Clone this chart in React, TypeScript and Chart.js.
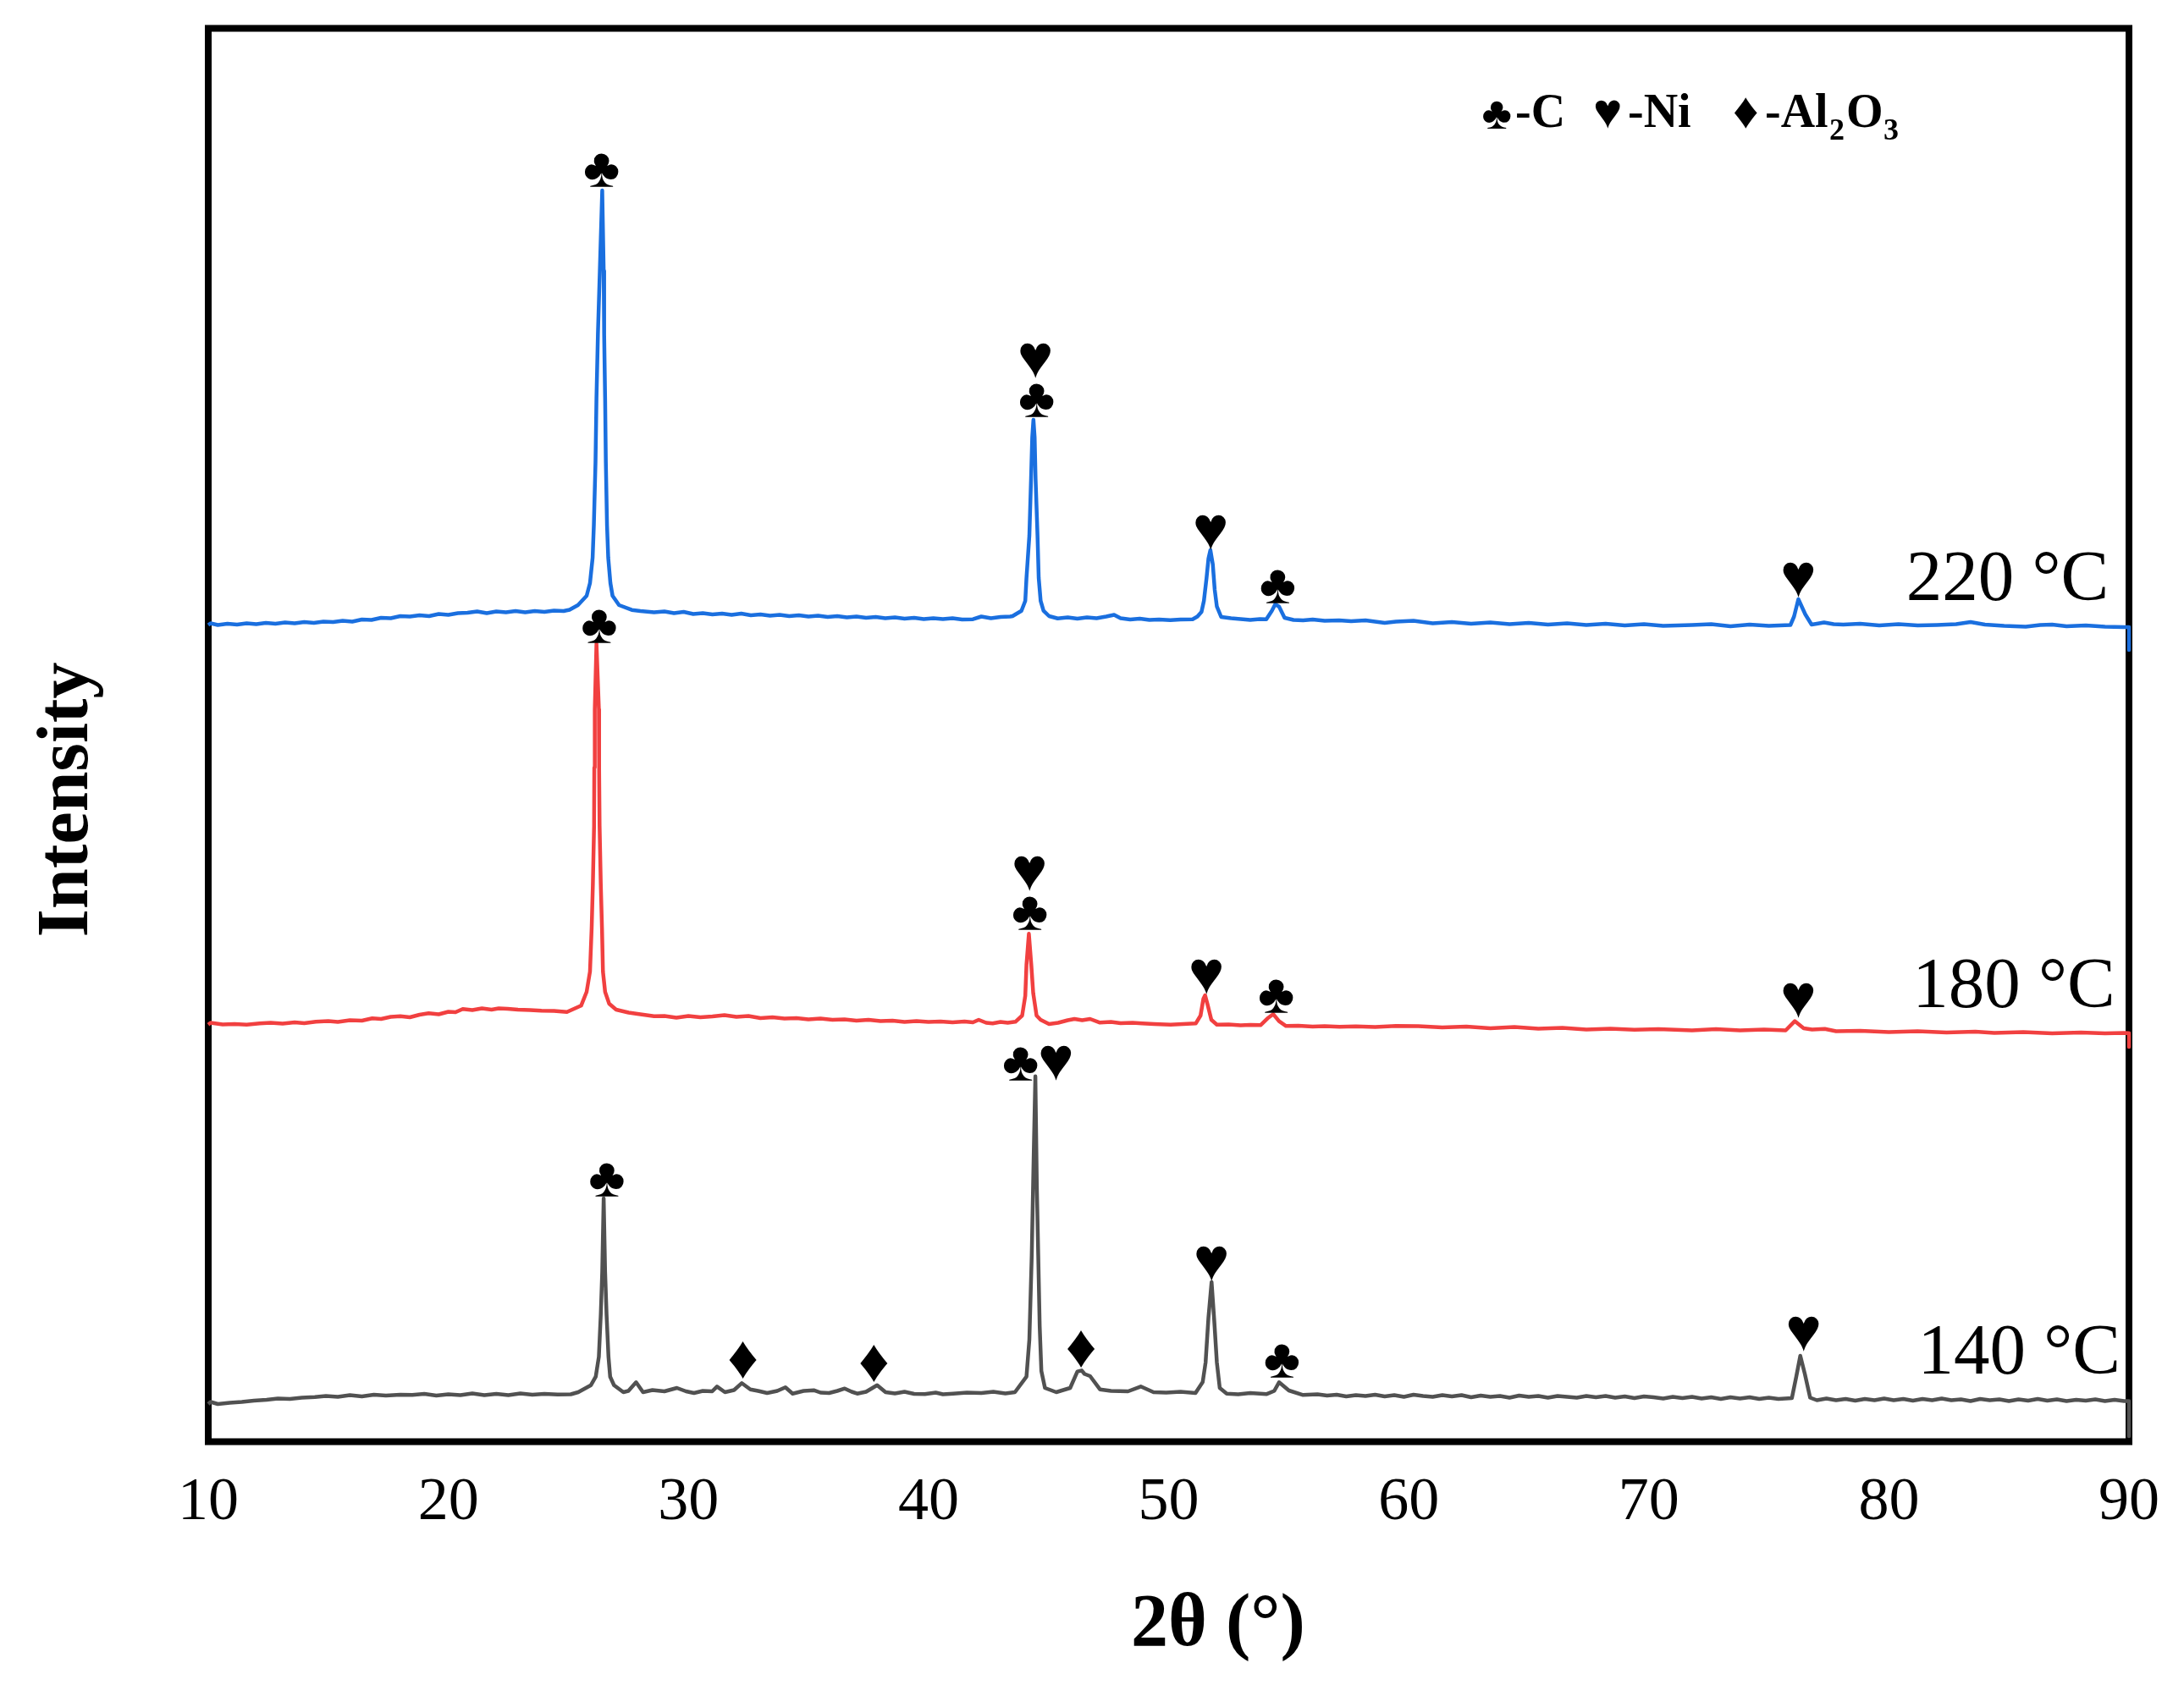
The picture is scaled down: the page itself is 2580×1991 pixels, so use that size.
import React, { useEffect, useRef } from "react";
import { Chart, registerables } from "chart.js";

Chart.register(...registerables);

const SERIF = '"Liberation Serif"';
const xTicks = [10, 20, 30, 40, 50, 60, 70, 80, 90];

const theta220 = [10, 10.1, 10.4, 10.8, 11.2, 11.6, 12, 12.4, 12.8, 13.2, 13.6, 14, 14.4, 14.8, 15.2, 15.6, 16, 16.4, 16.8, 17.2, 17.6, 18, 18.4, 18.8, 19.2, 19.6, 20, 20.4, 20.8, 21.2, 21.6, 22, 22.4, 22.8, 23.2, 23.6, 24, 24.4, 24.8, 25.05, 25.4, 25.76, 25.9, 26.01, 26.06, 26.13, 26.17, 26.23, 26.31, 26.41, 26.47, 26.49, 26.53, 26.56, 26.61, 26.66, 26.75, 26.84, 27.11, 27.64, 28, 28.57, 29, 29.4, 29.8, 30.2, 30.6, 31, 31.4, 31.8, 32.2, 32.6, 33, 33.4, 33.8, 34.2, 34.6, 35, 35.4, 35.8, 36.2, 36.6, 37, 37.4, 37.8, 38.2, 38.6, 39, 39.4, 39.8, 40.2, 40.6, 41, 41.4, 41.85, 42.2, 42.6, 43, 43.4, 43.5, 43.87, 44.03, 44.08, 44.2, 44.27, 44.32, 44.37, 44.42, 44.46, 44.54, 44.59, 44.67, 44.79, 45.02, 45.38, 45.8, 46.2, 46.6, 47, 47.4, 47.73, 48, 48.4, 48.8, 49.2, 49.6, 50.07, 50.5, 51, 51.2, 51.37, 51.47, 51.58, 51.66, 51.74, 51.84, 51.92, 52.01, 52.19, 52.6, 53, 53.4, 53.8, 54.07, 54.3, 54.44, 54.6, 54.83, 55.2, 55.6, 56, 56.5, 57.1, 57.6, 58.2, 59, 59.47, 60.2, 61, 61.8, 62.6, 63.4, 64.2, 65, 65.8, 66.6, 67.4, 68.2, 69, 69.8, 70.6, 71.8, 72.6, 73.4, 74.2, 75, 75.9, 76.05, 76.23, 76.52, 76.78, 77, 77.3, 77.7, 78.1, 78.8, 79.6, 80.4, 81.2, 82, 82.8, 83.4, 84, 84.8, 85.7, 86.3, 86.8, 87.4, 88.2, 89, 89.8, 90, 90];
const intensity220 = [965, 967, 965, 966.5, 965.5, 967, 966, 967.5, 966.5, 968, 967, 968.5, 967.5, 969, 968.5, 970, 969, 971.5, 971, 973.5, 973, 975.5, 975, 976.5, 975.5, 978, 977, 979, 979.5, 981, 979, 981, 980, 981.5, 980, 981.5, 980.5, 982, 981.5, 983, 988.5, 999.5, 1014.5, 1044.5, 1082.5, 1157.5, 1233, 1308, 1383.5, 1478.5, 1383.5, 1308, 1233, 1157.5, 1082.5, 1044.5, 1014.5, 999.5, 988.5, 982.8, 981.5, 980, 981, 979, 980.5, 978, 979, 977.5, 978.5, 977, 978.5, 976.5, 977.5, 976, 977, 975.5, 976.5, 975, 976, 974.5, 975.5, 974, 975, 973.5, 974.5, 973, 974, 972.5, 973.5, 972, 973, 972, 973, 971.5, 971.8, 975, 973, 974.5, 975, 975.5, 981.8, 993.5, 1020.5, 1070.5, 1136.8, 1186.8, 1207.5, 1186.8, 1136.8, 1070.5, 1020.5, 993.5, 981.8, 975.5, 972.8, 974, 972.5, 974, 973, 975, 977, 973, 971.5, 972.5, 971, 971.5, 970.8, 971.5, 971.8, 975, 980.5, 993.5, 1020.5, 1043.5, 1053.5, 1036.8, 1006.8, 986.8, 974.5, 973, 972, 971, 972, 971.8, 981.8, 989.5, 986.8, 973.5, 971, 970.5, 971.5, 970, 970.5, 969.5, 970.5, 967.5, 969, 970, 967, 968.5, 966.5, 968, 966, 967.5, 965.5, 967, 965, 966.5, 964.5, 966, 964, 965, 966, 963.5, 965.5, 964, 965, 975, 995.5, 977.5, 965.5, 966.5, 968, 966, 965.5, 966.5, 964.5, 966, 964.5, 965, 966, 968.5, 965.5, 964, 963, 965, 965.5, 963.5, 964.5, 963, 962.5, 962.5, 935.5];

const theta180 = [10, 10.1, 10.6, 11.1, 11.6, 12.14, 12.6, 13.1, 13.6, 14, 14.48, 15, 15.4, 15.9, 16.4, 16.83, 17.2, 17.6, 18, 18.4, 18.8, 19.18, 19.6, 20, 20.3, 20.6, 21, 21.4, 21.8, 22.1, 22.47, 22.9, 23.4, 23.88, 24.4, 24.94, 25.53, 25.76, 25.9, 25.97, 26.02, 26.07, 26.08, 26.1, 26.17, 26.27, 26.28, 26.3, 26.35, 26.4, 26.44, 26.53, 26.7, 26.99, 27.51, 28, 28.57, 29, 29.5, 30, 30.5, 31, 31.5, 32, 32.5, 33, 33.5, 34, 34.5, 35, 35.5, 36, 36.5, 37, 37.5, 38, 38.5, 39, 39.5, 40, 40.5, 41, 41.5, 41.85, 42.09, 42.4, 42.67, 43, 43.3, 43.62, 43.9, 44.03, 44.08, 44.18, 44.28, 44.36, 44.5, 44.67, 45.02, 45.4, 45.8, 46.08, 46.4, 46.73, 47.14, 47.6, 48, 48.5, 48.9, 49.4, 50.08, 50.6, 51.13, 51.33, 51.45, 51.52, 51.62, 51.78, 52.01, 52.5, 53, 53.4, 53.83, 54.12, 54.36, 54.6, 54.89, 55.4, 56, 56.5, 57.12, 57.8, 58.6, 59.47, 60.4, 61.4, 62.4, 63.4, 64.4, 65.4, 66.4, 67.4, 68.4, 69.4, 70.4, 71.8, 72.8, 73.8, 74.8, 75.7, 76.08, 76.45, 76.8, 77.33, 77.8, 78.8, 80, 81.2, 82.4, 83.6, 84.39, 85.6, 86.8, 88, 89, 89.8, 90, 90];
const intensity180 = [492.8, 495, 493, 493.5, 492.8, 494.2, 495, 494, 495.5, 494.5, 496.2, 497, 496, 498, 497.5, 500.2, 499.5, 502, 502.8, 501.5, 504.5, 506.2, 505, 508, 507.5, 511.2, 510, 512, 510.5, 512, 511.5, 510.5, 510, 509.2, 509, 507.8, 515.2, 531.5, 555.5, 607, 658.5, 727.5, 796.5, 865.5, 943, 865.5, 796.5, 727.5, 658.5, 607, 555.5, 531.5, 517.5, 510.5, 507, 505, 502.8, 503, 501, 503, 501.5, 502.5, 504, 502, 503, 500.5, 501.5, 500, 500.5, 499, 500, 498.5, 499, 497.5, 498.5, 497, 497.5, 496, 497, 496, 496.5, 495.5, 496.5, 495.5, 498.5, 495, 494.2, 496, 495, 496.2, 503.5, 526.8, 563.5, 600.2, 563.5, 530.2, 503.5, 498.5, 493.5, 495, 498, 499.5, 498, 499.5, 495.2, 496, 494.5, 495, 494.2, 493.5, 492.8, 493.5, 494.2, 503.5, 523.5, 527.5, 516.8, 498.5, 492.8, 493, 492, 492.5, 492.2, 500.2, 505.2, 496.8, 491.2, 491.5, 490.5, 491, 490.2, 490.8, 490, 491.2, 491, 489.5, 490.5, 488.5, 490, 488, 489, 487, 488, 486.8, 487.5, 486, 487.5, 486, 487, 486, 496.9, 488.5, 487, 487.7, 485, 485.5, 484, 485, 483.5, 484.5, 483, 484, 482.5, 483.5, 482.5, 483, 482.8, 466.5];

const theta140 = [10, 10.1, 10.4, 10.9, 11.4, 11.9, 12.43, 12.9, 13.4, 13.9, 14.44, 14.9, 15.4, 15.9, 16.4, 16.9, 17.4, 18, 18.5, 19, 19.5, 20, 20.5, 21, 21.5, 22, 22.5, 23, 23.5, 24, 24.55, 25.1, 25.41, 25.94, 26.14, 26.27, 26.35, 26.41, 26.47, 26.53, 26.59, 26.67, 26.74, 26.9, 27.29, 27.5, 27.82, 28.11, 28.5, 29, 29.52, 29.9, 30.23, 30.6, 30.99, 31.19, 31.52, 31.9, 32.22, 32.58, 32.9, 33.28, 33.7, 34.04, 34.34, 34.8, 35.22, 35.5, 35.86, 36.2, 36.51, 36.8, 37.03, 37.4, 37.86, 38.21, 38.6, 39, 39.4, 39.85, 40.3, 40.6, 41.03, 41.6, 42.2, 42.7, 43.2, 43.6, 44.08, 44.2, 44.3, 44.38, 44.45, 44.51, 44.57, 44.63, 44.7, 44.85, 45.32, 45.9, 46.2, 46.38, 46.5, 46.73, 47.14, 47.6, 48.31, 48.84, 49.37, 49.9, 50.5, 51.12, 51.42, 51.54, 51.66, 51.79, 51.9, 52.01, 52.13, 52.42, 52.9, 53.4, 54.07, 54.4, 54.6, 55.01, 55.6,
  56.2, 56.6, 57, 57.4, 57.8, 58.2, 58.6, 59, 59.4, 59.8, 60.2, 60.6, 61, 61.4, 61.8, 62.2, 62.6, 63, 63.4, 63.8, 64.2, 64.6, 65, 65.4, 65.8, 66.2, 66.6, 67, 67.4, 67.8, 68.2, 68.6, 69, 69.4, 69.8, 70.2, 70.6, 71, 71.4, 71.8, 72.2, 72.6, 73, 73.4, 73.8, 74.2, 74.6, 75, 75.4, 75.96,
  76.14, 76.31, 76.5, 76.72,
  77, 77.4, 77.8, 78.2, 78.6, 79, 79.4, 79.8, 80.2, 80.6, 81, 81.4, 81.8, 82.2, 82.6, 83, 83.4, 83.8, 84.2, 84.6, 85, 85.4, 85.8, 86.2, 86.6, 87, 87.4, 87.8, 88.2, 88.6, 89, 89.4, 89.8, 90, 90];
const intensity140 = [44.5, 47, 44.5, 46, 47, 48.5, 49.5, 51, 50.5, 52, 52.8, 54, 53, 55, 53.5, 55.5, 54.5, 55.5, 55.2, 56.5, 54.5, 56, 55, 57, 55, 56.5, 55, 57, 55.5, 56.5, 55.8, 56, 58.5, 66.8, 76.8, 100.5, 150.5, 200.5, 287.5, 200.5, 150.5, 100.5, 76.8, 66.8, 58.5, 60, 70.2, 58.5, 61, 59.5, 63.5, 59.5, 57.5, 60, 59.5, 65.2, 58.5, 61, 69.2, 61.8, 60, 57.5, 60, 64.2, 56.8, 60, 60.8, 58, 57.5, 60, 62.8, 59, 56.8, 59, 66.8, 58.5, 57, 59, 56.5, 56.2, 58, 56, 56.8, 58, 57.5, 59, 57, 58.5, 76.8, 120.5, 220.5, 336.8, 431.8, 303.5, 220.5, 136.8, 83.5, 63.5, 58.5, 63.5, 82.8, 84.2, 80, 77.5, 61.8, 60, 59.5, 65.2, 58.5, 58, 59, 57.5, 70.5, 93.5, 146.8, 188.5, 143.5, 93.5, 63.5, 56.8, 56, 57.5, 56.2, 60, 70.2, 60.5, 55.2,
  56, 54.5, 55.5, 53.5, 55, 54, 55.5, 53.5, 55, 53, 55.5, 54, 53, 55, 53.5, 55, 52.5, 54.5, 53, 54, 52, 54.5, 53, 54, 52, 54, 53, 52, 54, 52.5, 54, 52, 53.5, 51.5, 53.5, 52.5, 51, 53, 51.5, 53, 51, 52.5, 50.5, 52.5, 51, 52.5, 50.5, 52, 50.5, 51.5,
  76.5, 101.5, 80, 52,
  49, 51, 49, 50.5, 48.5, 50.5, 49, 51, 49, 50.5, 48.5, 50.5, 49, 51, 49, 50, 48, 50.5, 49, 50, 48, 50, 48.5, 50.5, 48.5, 50, 48, 49.5, 48.5, 50, 48, 49.5, 48, 48, 6.5];

const peakGlyphs = ["♣", "♥", "♣", "♥", "♣", "♥", "♣", "♥", "♣", "♥", "♣", "♥", "♣", "♦", "♦", "♣", "♥", "♦", "♥", "♣", "♥"];
const peakTheta = [26.38, 44.46, 44.5, 51.75, 54.54, 76.23, 26.28, 44.21, 44.22, 51.58, 54.48, 76.23, 26.6, 32.27, 37.73, 43.83, 45.31, 46.36, 51.79, 54.72, 76.45];
const peakIntensity = [1482.8, 1256.8, 1210.8, 1053.5, 990.8, 997.5, 943.5, 650.8, 604.8, 528.5, 506.8, 500.5, 289.2, 74.2, 70.8, 426.8, 426.8, 87.8, 189.5, 75.8, 106.5];

const tempLabels = ["220 °C", "180 °C", "140 °C"];
const tempTheta = [80.72, 80.98, 81.2];
const tempIntensity = [994.5, 514, 81];

const seriesColors = ["#1a6fdf", "#f14040", "#515151"];

const toPoints = (xs: number[], ys: number[]) => xs.map((x, i) => ({ x, y: ys[i] }));

const annotate = {
  id: "annotate",
  beforeDatasetsDraw(chart: any) {
    const { ctx, chartArea: a } = chart;
    ctx.save();
    ctx.strokeStyle = "#000";
    ctx.lineWidth = 8;
    ctx.strokeRect(a.left, a.top, a.right - a.left, a.bottom - a.top);
    ctx.restore();
  },
  afterDatasetsDraw(chart: any) {
    const { ctx, scales } = chart;
    const sx = scales.x;
    const sy = scales.y;
    ctx.save();
    ctx.fillStyle = "#000";
    ctx.textAlign = "left";
    ctx.textBaseline = "alphabetic";

    const glyph = (g: string, cx: number, bottom: number, size: number) => {
      ctx.font = `${size}px ${SERIF}`;
      const m = ctx.measureText(g);
      const inkW = m.actualBoundingBoxRight + m.actualBoundingBoxLeft;
      ctx.fillText(g, cx - inkW / 2 + m.actualBoundingBoxLeft, bottom - m.actualBoundingBoxDescent);
    };
    const peakSize: Record<string, number> = { "♣": 66, "♥": 72, "♦": 72 };
    const legendSize: Record<string, number> = { "♣": 54, "♥": 58, "♦": 60 };

    peakGlyphs.forEach((g, i) => {
      glyph(g, sx.getPixelForValue(peakTheta[i]), sy.getPixelForValue(peakIntensity[i]), peakSize[g]);
    });

    ctx.font = `85px ${SERIF}`;
    tempLabels.forEach((t, i) => {
      ctx.fillText(t, sx.getPixelForValue(tempTheta[i]), sy.getPixelForValue(tempIntensity[i]));
    });

    ctx.font = `bold 88px ${SERIF}`;
    ctx.fillText("2θ (°)", 1336, 1944);

    ctx.save();
    ctx.translate(103, 945);
    ctx.rotate(-Math.PI / 2);
    ctx.textAlign = "center";
    ctx.font = `bold 86px ${SERIF}`;
    ctx.fillText("Intensity", 0, 0);
    ctx.restore();

    // legend
    glyph("♣", 1768, 152, legendSize["♣"]);
    glyph("♥", 1899, 152, legendSize["♥"]);
    glyph("♦", 2062, 152, legendSize["♦"]);
    ctx.font = `bold 56px ${SERIF}`;
    ctx.fillText("-C", 1790, 150);
    ctx.fillText("-Ni", 1923, 150);
    ctx.fillText("-Al", 2085, 150);
    ctx.fillText("O", 2181, 150);
    ctx.font = `bold 36px ${SERIF}`;
    ctx.fillText("2", 2161, 165);
    ctx.fillText("3", 2225, 165);
    ctx.restore();
  },
};

export default function App() {
  const ref = useRef<HTMLCanvasElement>(null);
  useEffect(() => {
    const chart = new Chart(ref.current as HTMLCanvasElement, {
      type: "line",
      plugins: [annotate],
      data: {
        datasets: [
          { label: "140 °C", data: toPoints(theta140, intensity140), borderColor: seriesColors[2] },
          { label: "180 °C", data: toPoints(theta180, intensity180), borderColor: seriesColors[1] },
          { label: "220 °C", data: toPoints(theta220, intensity220), borderColor: seriesColors[0] },
        ].map((d) => ({ ...d, borderWidth: 4.5, pointRadius: 0, tension: 0, clip: false, borderJoinStyle: "round" })),
      },
      options: {
        responsive: false,
        animation: false,
        layout: { padding: { left: 246, top: 33.5, right: 58, bottom: 0 } },
        plugins: { legend: { display: false }, tooltip: { enabled: false } },
        scales: {
          x: {
            type: "linear",
            min: 10,
            max: 90,
            grid: { display: false, drawTicks: false },
            border: { display: false },
            afterFit: (s: any) => { s.height = 287.5; },
            afterBuildTicks: (s: any) => { s.ticks = xTicks.map((value) => ({ value })); },
            ticks: {
              autoSkip: false,
              maxRotation: 0,
              padding: 29,
              color: "#000",
              font: { family: SERIF, size: 72 },
            },
          },
          y: { display: false, min: 0, max: 1670 },
        },
      },
    } as any);
    return () => chart.destroy();
  }, []);
  return (
    <div style={{ position: "absolute", left: 0, top: 0, width: 2580, height: 1991, background: "#fff" }}>
      <canvas ref={ref} width={2580} height={1991} style={{ display: "block" }} />
    </div>
  );
}
